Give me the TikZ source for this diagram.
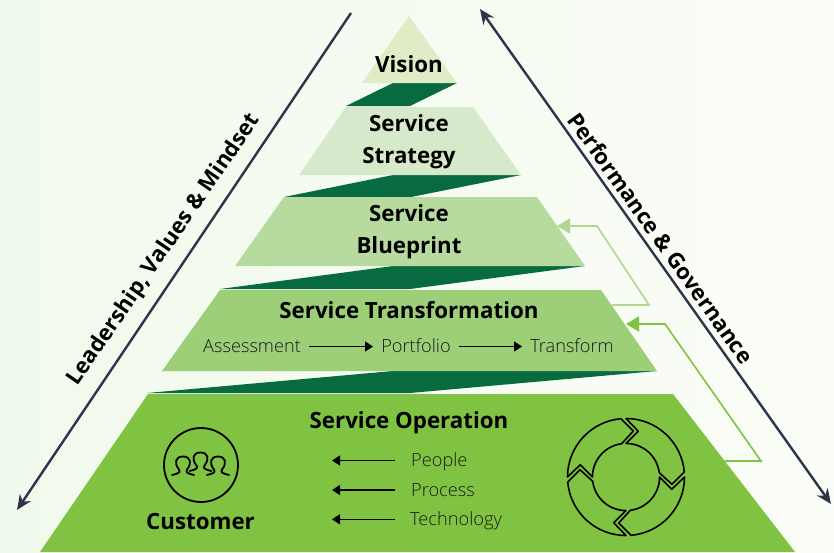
\documentclass[tikz,border=0pt]{standalone}
\usepackage{fontspec}
\setmainfont{Open Sans}
\newfontfamily\lightfont{Open Sans Light}
\usetikzlibrary{arrows.meta}
\definecolor{bgleft}{HTML}{F0FAEC}
\definecolor{bgright}{HTML}{FBFDF7}
\definecolor{bandgreen}{HTML}{086B40}
\definecolor{visiongreen}{HTML}{DFEDC6}
\definecolor{strategygreen}{HTML}{D7E9CB}
\definecolor{blueprintgreen}{HTML}{B7DB9E}
\definecolor{transformgreen}{HTML}{9CCF78}
\definecolor{operationgreen}{HTML}{80C342}
\definecolor{sideline}{HTML}{30334A}
\definecolor{softtext}{HTML}{1A1A1A}

\begin{document}
\begin{tikzpicture}[
    x=1pt, y=-1pt,
    title/.style={font=\fontsize{22.3}{26}\selectfont\bfseries, text=black, inner sep=0pt, anchor=base},
    item/.style={font=\fontsize{18.2}{22}\selectfont\lightfont, text=softtext, text height=13pt, text depth=1pt, inner sep=0pt},
    sidelabel/.style={font=\fontsize{22}{26}\selectfont\bfseries, text=black, inner sep=0pt},
    flow/.style={-{Triangle[length=8pt, width=10pt]}, line width=1.2pt, black},
    sidearrow/.style={line width=2.4pt, sideline},
    feedback/.style={line width=1.6pt, -{Triangle[length=13pt, width=15pt]}},
    icon/.style={line width=1.6pt, black, line join=round}
]
    \useasboundingbox (0,0) rectangle (834,552);

    % Background
    \fill[left color=bgleft, right color=bgright] (0,0) rectangle (834,552);

    % Dark bands
    \fill[bandgreen] (393,83) -- (457,83) -- (410,106) -- (346,106) -- cycle;
    \fill[bandgreen] (393,175) -- (521,175) -- (411,197) -- (284,197) -- cycle;
    \fill[bandgreen] (393,266) -- (585,266) -- (410,289) -- (220,289) -- cycle;
    \fill[bandgreen] (393,371) -- (657,371) -- (410,393) -- (147,393) -- cycle;

    % Tiers
    \fill[visiongreen] (409,16) -- (457,83) -- (362,83) -- cycle;
    \fill[strategygreen] (346,107) -- (473,107) -- (521,175) -- (299,175) -- cycle;
    \fill[blueprintgreen] (284,197) -- (537,197) -- (585,266) -- (235,266) -- cycle;
    \fill[transformgreen] (220,290) -- (601,290) -- (657,371) -- (162,371) -- cycle;
    \fill[operationgreen] (148,394) -- (673,394) -- (795,552) -- (40,552) -- cycle;

    % Tier titles
    \node[title] (vision) at (409,72) {Vision};
    \node[title] (strategyA) at (409,131) {Service};
    \node[title] (strategyB) at (409,163) {Strategy};
    \node[title] (blueprintA) at (409,221) {Service};
    \node[title] (blueprintB) at (409,253) {Blueprint};
    \node[title] (transformation) at (409,318) {Service Transformation};
    \node[title] (operation) at (409,428) {Service Operation};
    \node[title] (customer) at (200.5,529) {Customer};

    % Transformation steps
    \node[item, inner xsep=8pt] (assessment) at (252,346.5) {Assessment};
    \node[item, inner xsep=8pt] (portfolio) at (416,346.5) {Portfolio};
    \node[item, inner xsep=8pt] (transform) at (572,346.5) {Transform};
    \draw[flow] (assessment) -- (portfolio);
    \draw[flow] (portfolio) -- (transform);

    % Operation items
    \node[item, anchor=west, inner xsep=16pt] (people) at (395,460.5) {People};
    \node[item, anchor=west, inner xsep=16pt] (process) at (395,490) {Process};
    \node[item, anchor=west, inner xsep=15pt] (technology) at (395,519.3) {Technology};
    \coordinate (peopleEnd) at (332,460.5);
    \coordinate (processEnd) at (332,490);
    \coordinate (technologyEnd) at (332,519.3);
    \draw[flow] (people) -- (peopleEnd);
    \draw[flow] (process) -- (processEnd);
    \draw[flow] (technology) -- (technologyEnd);

    % Side arrows
    \coordinate (leftTop) at (351,13);
    \coordinate (leftEnd) at (17,510);
    \coordinate (rightTop) at (480,9);
    \coordinate (rightEnd) at (831,504);
    \draw[sidearrow, -{Stealth[length=15pt, width=13pt]}] (leftTop) -- (leftEnd);
    \draw[sidearrow, {Stealth[length=15pt, width=13pt]}-{Stealth[length=15pt, width=13pt]}] (rightTop) -- (rightEnd);
    \node[sidelabel, rotate=55.6] (leadership) at (164,250) {Leadership, Values \& Mindset};
    \node[sidelabel, rotate=-54.5] (performance) at (661,238) {Performance \& Governance};

    % Feedback connectors
    \coordinate (fbOneStart) at (612,305);
    \coordinate (fbOneA) at (649,305);
    \coordinate (fbOneB) at (597,226);
    \coordinate (fbOneEnd) at (557,226);
    \draw[feedback, blueprintgreen!85!operationgreen] (fbOneStart) -- (fbOneA) -- (fbOneB) -- (fbOneEnd);
    \coordinate (fbTwoStart) at (725,461);
    \coordinate (fbTwoA) at (761,461);
    \coordinate (fbTwoB) at (665,324);
    \coordinate (fbTwoEnd) at (626,324);
    \draw[feedback, operationgreen] (fbTwoStart) -- (fbTwoA) -- (fbTwoB) -- (fbTwoEnd);

    % Customer icon
    \node[circle, draw=black, line width=1.8pt, minimum size=74pt, inner sep=0pt] (customerRing) at (201,465) {};
    \foreach \px/\py in {183/456.5, 200.5/452.5, 218/456.5}
        \draw[icon, line width=1.8pt, line cap=round, shift={(\px,\py)}]
            (-11,18.5) .. controls (-5,17) and (-2,16) .. (-4,13)
            .. controls (-9,7) and (-8,0) .. (0,0)
            .. controls (8,0) and (9,7) .. (4,13)
            .. controls (2,16) and (5,17) .. (11,18.5);

    % Cycle icon
    \foreach \ang in {0,-90,-180,-270} {
        \begin{scope}[shift={(626,477)}, x=1pt, y=1pt, rotate=\ang]
            \draw[icon] (0,58.5) arc[start angle=90, end angle=5, radius=58.5]
                -- (46,-7.3) -- (33.3,4.3)
                arc[start angle=7.4, end angle=90, radius=33.6]
                -- (12.3,45.7) -- cycle;
        \end{scope}
    }
\end{tikzpicture}
\end{document}
